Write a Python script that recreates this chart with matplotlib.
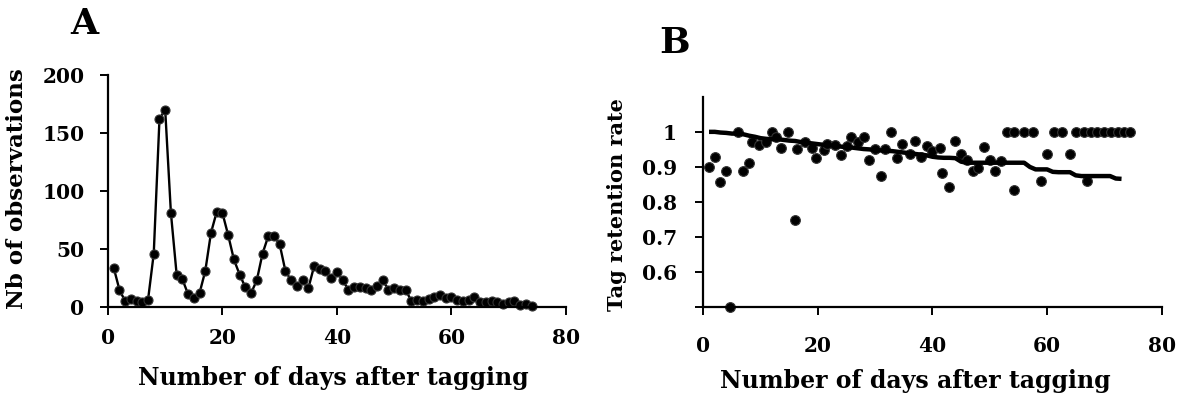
import matplotlib.pyplot as plt

# Panel A: number of observations per day after tagging
days_a = list(range(1, 75))
nb_obs = [34, 15, 5, 7, 5, 4, 6, 46, 162, 170,
          81, 28, 24, 11, 8, 12, 31, 64, 82, 81,
          62, 41, 28, 17, 12, 23, 46, 61, 61, 54,
          31, 23, 18, 23, 16, 35, 33, 31, 25, 30,
          23, 15, 17, 17, 16, 15, 18, 23, 15, 16,
          15, 15, 5, 6, 5, 7, 9, 10, 8, 9,
          6, 5, 6, 9, 4, 4, 5, 4, 3, 4,
          5, 2, 3, 1]

# Panel B: tag retention rate (points) and fitted trend
days_b = [1, 2, 3, 4, 4.7, 6, 7, 8, 8.5, 9.7, 11, 12, 12.7, 13.5, 14.7, 16, 16.4, 17.8, 19,
          19.7, 21, 21.6, 23, 24, 25, 25.8, 27, 28, 29, 30, 31, 31.8, 32.8, 33.8, 34.7,
          36, 37, 38, 39, 40, 41.4, 41.7, 42.8, 44, 45, 46, 47, 48, 49, 50, 51, 52,
          53, 54.3, 54.2, 56, 57.6, 59, 60, 61.2, 62.6, 64, 65, 66.4, 67, 67.6, 68.8,
          70, 71.1, 72.3, 73.4, 74.5]
retention = [0.90, 0.928, 0.857, 0.888, 0.50, 1.0, 0.888, 0.91, 0.97, 0.963, 0.97, 1.0,
             0.986, 0.955, 1.0, 0.75, 0.95, 0.97, 0.955, 0.926, 0.947, 0.965, 0.963,
             0.934, 0.96, 0.984, 0.97, 0.984, 0.92, 0.95, 0.874, 0.95, 1.0, 0.926, 0.966,
             0.938, 0.974, 0.928, 0.96, 0.945, 0.955, 0.883, 0.843, 0.974, 0.938, 0.92,
             0.888, 0.897, 0.957, 0.92, 0.888, 0.917, 1.0, 1.0, 0.835, 1.0, 1.0, 0.859,
             0.936, 1.0, 1.0, 0.936, 1.0, 1.0, 0.859, 1.0, 1.0, 1.0, 1.0, 1.0, 1.0, 1.0]

trend_days = list(range(1, 74))
trend = [1.0, 1.0, 0.998, 0.997, 0.995, 0.995, 0.993, 0.989, 0.986, 0.982,
         0.98, 0.979, 0.979, 0.977, 0.975, 0.974, 0.971, 0.969, 0.967, 0.965,
         0.963, 0.962, 0.96, 0.958, 0.956, 0.955, 0.953, 0.951, 0.95, 0.948,
         0.947, 0.946, 0.945, 0.943, 0.941, 0.939, 0.937, 0.935, 0.933, 0.929,
         0.927, 0.926, 0.926, 0.925, 0.915, 0.912, 0.912, 0.912, 0.912, 0.912,
         0.912, 0.912, 0.912, 0.912, 0.912, 0.912, 0.9, 0.893, 0.893, 0.893,
         0.886, 0.885, 0.885, 0.885, 0.876, 0.874, 0.874, 0.874, 0.874, 0.874,
         0.874, 0.867, 0.866]

plt.rcParams['font.family'] = 'DejaVu Serif'
plt.rcParams['font.weight'] = 'bold'

fig = plt.figure(figsize=(11.81, 3.98), dpi=100)
ax1 = fig.add_axes([0.0914, 0.2286, 0.3878, 0.583])
ax2 = fig.add_axes([0.5955, 0.2279, 0.3881, 0.529])

for ax in (ax1, ax2):
    for s in ('top', 'right'):
        ax.spines[s].set_visible(False)
    for s in ('left', 'bottom'):
        ax.spines[s].set_linewidth(1.6)
    ax.tick_params(width=1.4, length=6, labelsize=14.5)
    ax.set_xlim(0, 80)
    ax.set_xticks([0, 20, 40, 60, 80])

# Panel A
ax1.plot(days_a, nb_obs, color='black', lw=1.7, marker='o', ms=6.5,
         mfc='black', mec='#333333', mew=0.8, clip_on=False)
ax1.set_ylim(0, 200)
ax1.set_yticks([0, 50, 100, 150, 200])
ax1.tick_params(axis='x', pad=9)
ax1.tick_params(axis='y', pad=11)
ax1.set_xlabel('Number of days after tagging', fontsize=17, fontweight='bold')
ax1.set_ylabel('Nb of observations', fontsize=16.5, fontweight='bold')
ax1.xaxis.set_label_coords(0.493, -0.255)
ax1.yaxis.set_label_coords(-0.175, 0.509)

# Panel B
ax2.plot(days_b, retention, 'o', color='black', ms=7, mec='#333333', mew=0.8,
         clip_on=False)
ax2.plot(trend_days, trend, color='black', lw=3.2, solid_capstyle='butt')
ax2.set_ylim(0.5, 1.1)
ax2.set_yticks([0.5, 0.6, 0.7, 0.8, 0.9, 1.0])
ax2.set_yticklabels(['', '0.6', '0.7', '0.8', '0.9', '1'])
ax2.tick_params(axis='x', pad=15)
ax2.tick_params(axis='y', pad=13)
ax2.set_xlabel('Number of days after tagging', fontsize=17, fontweight='bold')
ax2.set_ylabel('Tag retention rate', fontsize=15, fontweight='bold')
ax2.xaxis.set_label_coords(0.462, -0.295)
ax2.yaxis.set_label_coords(-0.166, 0.486)

fig.text(84 / 1181, 1 - 23.5 / 398, 'A', fontsize=26, fontweight='bold',
         ha='center', va='center')
fig.text(675 / 1181, 1 - 43 / 398, 'B', fontsize=26, fontweight='bold',
         ha='center', va='center')

fig.savefig('out.png', dpi=100)
